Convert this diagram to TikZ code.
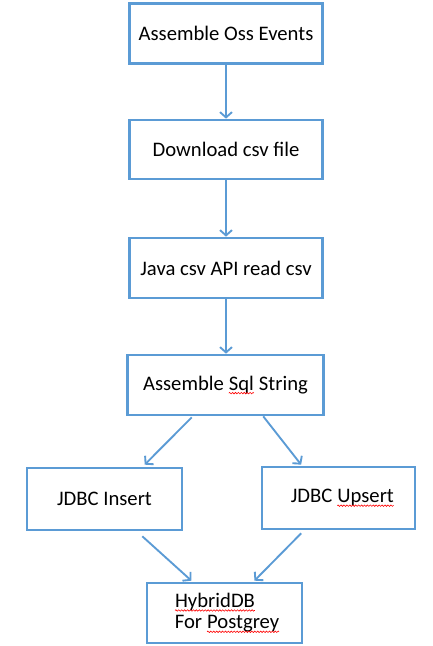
\documentclass[tikz,border=0pt]{standalone}
\usepackage{fontspec}
\setmainfont{Carlito}
\usetikzlibrary{arrows.meta,calc,decorations.pathmorphing}
\definecolor{boxblue}{RGB}{91,155,213}
\newcommand\spellwave[1]{\tikz[baseline=(w.base)]{\node[inner sep=0pt,outer sep=0pt,draw=none,minimum size=0pt](w){#1};\draw[red,line width=0.45pt,decorate,decoration={zigzag,segment length=2.2pt,amplitude=0.55pt}] ([yshift=-2.2pt]w.base west) -- ([yshift=-2.2pt]w.base east);}}
\begin{document}
\begin{tikzpicture}[x=0.75pt,y=-0.75pt,
  box/.style={draw=boxblue,line width=2pt,rectangle,inner sep=0pt,
    font=\fontsize{15.5}{17}\selectfont,text=black,align=center},
  arr/.style={draw=boxblue,line width=1.4pt,-{Straight Barb[length=4pt,width=9pt,line width=1.4pt]}}]
\useasboundingbox[fill=white] (0,0) rectangle (432,646);
\node[box,minimum width=144.75pt,minimum height=45pt] (a) at (226,33.5) {Assemble Oss Events};
\node[box,minimum width=144.75pt,minimum height=44.25pt] (b) at (226,149.5) {Download csv file};
\node[box,minimum width=144.75pt,minimum height=45pt] (c) at (226,268) {Java csv API read csv};
\node[box,minimum width=147pt,minimum height=45pt] (d) at (225.5,385) {Assemble \spellwave{Sql} String};
\node[box,minimum width=116.25pt,minimum height=46.5pt] (e) at (104.5,499) {JDBC Insert};
\node[box,minimum width=114.75pt,minimum height=46.5pt] (f) at (338.5,498) {\hspace*{6pt}JDBC \spellwave{Upsert}};
\node[box,minimum width=116.25pt,minimum height=45pt,align=left] (g) at (224.5,613) {\hspace*{4pt}\spellwave{HybridDB}\\[-1pt]\hspace*{4pt}For \spellwave{Postgrey}};
\draw[arr] (a.south) -- (b.north);
\draw[arr] (b.south) -- (c.north);
\draw[arr] (c.south) -- (d.north -| c.south);
\draw[arr] ($(d.south west)!0.33!(d.south east)+(0,1)$) -- ($(e.north west)!0.755!(e.north east)+(0,-2)$);
\draw[arr] ($(d.south west)!0.69!(d.south east)+(0,0)$) -- ($(f.north west)!0.26!(f.north east)+(0,-1)$);
\draw[arr] ($(e.south west)!0.74!(e.south east)+(0,5)$) -- ($(g.north west)!0.29!(g.north east)+(0,-1)$);
\draw[arr] ($(f.south west)!0.26!(f.south east)+(0,3)$) -- ($(g.north west)!0.69!(g.north east)+(0,-1)$);
\end{tikzpicture}
\end{document}
